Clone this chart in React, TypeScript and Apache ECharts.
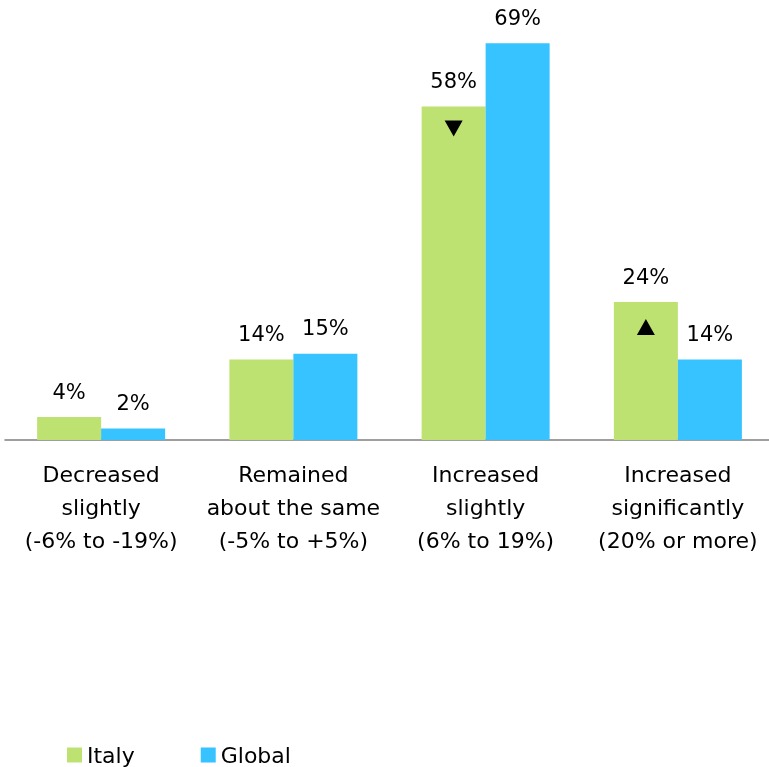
import React, { useEffect, useRef } from "react";
import * as echarts from "echarts";

const categories = [
  "Decreased\nslightly\n(-6% to -19%)",
  "Remained\nabout the same\n(-5% to +5%)",
  "Increased\nslightly\n(6% to 19%)",
  "Increased\nsignificantly\n(20% or more)",
];
const italy = [4, 14, 58, 24];
const global = [2, 15, 69, 14];
const seriesNames = ["Italy", "Global"];
// significance markers on Italy bars: [categoryIndex, direction]
const markers: [number, "down" | "up"][] = [
  [2, "down"],
  [3, "up"],
];

const FONT = "'DejaVu Sans', 'Noto Sans', sans-serif";

export default function App() {
  const ref = useRef<HTMLDivElement>(null);
  useEffect(() => {
    if (!ref.current) return;
    const chart = echarts.init(ref.current, null, { renderer: "svg" });
    const label = {
      show: true,
      position: "top",
      distance: 15,
      formatter: "{c}%",
      fontSize: 21,
      fontFamily: FONT,
      color: "#000",
    };
    chart.setOption({
      animation: false,
      textStyle: { fontFamily: FONT },
      grid: { left: 5, top: 10, width: 769, height: 430 },
      legend: {
        data: seriesNames,
        left: 62,
        top: 739,
        itemWidth: 15,
        itemHeight: 15,
        itemGap: 66,
        icon: "rect",
        textStyle: { fontSize: 22, color: "#000", fontFamily: FONT },
      },
      xAxis: {
        type: "category",
        data: categories,
        axisLine: { lineStyle: { color: "#7f7f7f", width: 1.5 } },
        axisTick: { show: false },
        axisLabel: {
          fontSize: 22,
          lineHeight: 33,
          margin: 18,
          color: "#000",
          fontFamily: FONT,
          interval: 0,
        },
      },
      yAxis: {
        type: "value",
        min: 0,
        max: 430 / 5.75,
        show: false,
        splitLine: { show: false },
      },
      series: [
        {
          name: seriesNames[0],
          type: "bar",
          data: italy,
          barWidth: 64,
          barGap: "0%",
          itemStyle: { color: "#BDE272" },
          label,
          markPoint: {
            symbolSize: [18, 16],
            itemStyle: { color: "#000" },
            label: { show: false },
            data: markers.map(([i, dir]) => ({
              coord: [i, italy[i]],
              symbol: "triangle",
              symbolRotate: dir === "down" ? 180 : 0,
              symbolOffset: [0, dir === "down" ? 22 : 25],
            })),
          },
        },
        {
          name: seriesNames[1],
          type: "bar",
          data: global,
          barWidth: 64,
          barGap: "0%",
          itemStyle: { color: "#36C3FF" },
          label,
        },
      ],
    });
    return () => chart.dispose();
  }, []);
  return (
    <div
      style={{
        position: "fixed",
        left: 0,
        top: 0,
        width: 769,
        height: 767,
        overflow: "hidden",
      }}
    >
      <div ref={ref} style={{ width: 780, height: 767 }} />
    </div>
  );
}
